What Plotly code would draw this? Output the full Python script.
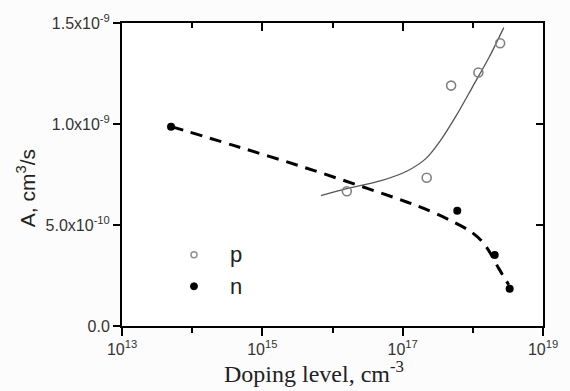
import plotly.graph_objects as go

# ---- data ----
p_x = [1.6e16, 2.2e17, 4.9e17, 1.2e18, 2.45e18]
p_y = [6.67e-10, 7.34e-10, 1.19e-9, 1.255e-9, 1.40e-9]

n_x = [5.0e13, 6.0e17, 2.05e18, 3.35e18]
n_y = [9.87e-10, 5.71e-10, 3.52e-10, 1.85e-10]

p_fit_x = [6.84e15, 1.63e16, 4.79e16, 1.14e17, 2.18e17, 3.35e17, 5.77e17, 9.91e17, 1.70e18, 2.76e18]
p_fit_y = [6.46e-10, 6.81e-10, 7.18e-10, 7.66e-10, 8.31e-10, 9.11e-10, 1.040e-9, 1.184e-9, 1.329e-9, 1.477e-9]

n_fit_x = [5.06e13, 3.89e14, 3.58e15, 2.80e16, 1.14e17, 2.0e17, 4.63e17, 9.91e17, 1.52e18, 2.35e18, 3.25e18]
n_fit_y = [9.87e-10, 8.94e-10, 7.90e-10, 6.87e-10, 6.14e-10, 5.82e-10, 5.25e-10, 4.61e-10, 3.97e-10, 2.84e-10, 2.04e-10]

x_major = [1e13, 1e15, 1e17, 1e19]
x_major_text = ["10<sup>13</sup>", "10<sup>15</sup>", "10<sup>17</sup>", "10<sup>19</sup>"]
x_minor = [1e14, 1e16, 1e18]
y_ticks = [0, 5e-10, 1e-9, 1.5e-9]
y_tick_text = ["0.0", "5.0x10<sup>-10</sup>", "1.0x10<sup>-9</sup>", "1.5x10<sup>-9</sup>"]
legend_labels = ["p", "n"]

SANS = "Arial, Liberation Sans, sans-serif"
SERIF = "Times New Roman, Liberation Serif, serif"

fig = go.Figure()

fig.add_trace(go.Scatter(x=p_fit_x, y=p_fit_y, mode="lines",
                         line=dict(color="#555555", width=1.3, shape="spline", smoothing=0.8),
                         showlegend=False, hoverinfo="skip"))
fig.add_trace(go.Scatter(x=n_fit_x, y=n_fit_y, mode="lines",
                         line=dict(color="black", width=3, dash="12px,8px", shape="spline"),
                         showlegend=False, hoverinfo="skip"))
fig.add_trace(go.Scatter(x=p_x, y=p_y, mode="markers",
                         marker=dict(symbol="circle-open", size=9, color="#808080",
                                     line=dict(width=1.6, color="#808080")),
                         showlegend=False))
fig.add_trace(go.Scatter(x=n_x, y=n_y, mode="markers",
                         marker=dict(symbol="circle", size=8, color="black"),
                         showlegend=False))
# invisible trace to anchor the mirrored (top/right) axes
fig.add_trace(go.Scatter(x=[n_x[0]], y=[n_y[0]], xaxis="x2", yaxis="y2",
                         mode="markers", marker=dict(opacity=0), showlegend=False,
                         hoverinfo="skip"))

fig.update_layout(
    width=570, height=391,
    margin=dict(l=122, r=22, t=14, b=65),
    paper_bgcolor="#fcfcfc",
    plot_bgcolor="white",
    xaxis=dict(type="log", range=[13, 19], showgrid=False, zeroline=False,
               showline=True, linecolor="black", linewidth=2,
               tickmode="array", tickvals=x_major, ticktext=x_major_text,
               ticks="outside", ticklen=8, tickwidth=2, tickcolor="black",
               tickfont=dict(family=SANS, size=16, color="#333333"),
               minor=dict(tickvals=x_minor, ticks="outside", ticklen=5,
                          tickwidth=2, tickcolor="black", showgrid=False)),
    yaxis=dict(range=[0, 1.5e-9], showgrid=False, zeroline=False,
               showline=True, linecolor="black", linewidth=2,
               tickmode="array", tickvals=y_ticks, ticktext=y_tick_text,
               ticks="outside", ticklen=7, tickwidth=2, tickcolor="black",
               tickfont=dict(family=SANS, size=16, color="#333333")),
    xaxis2=dict(type="log", range=[13, 19], overlaying="x", side="top",
                showgrid=False, zeroline=False, showline=True, linecolor="black",
                linewidth=2, tickmode="array", tickvals=x_major, showticklabels=False,
                ticks="inside", ticklen=8, tickwidth=2, tickcolor="black",
                minor=dict(tickvals=x_minor, ticks="inside", ticklen=5,
                           tickwidth=2, tickcolor="black", showgrid=False)),
    yaxis2=dict(range=[0, 1.5e-9], overlaying="y", side="right", anchor="x2",
                showgrid=False, zeroline=False, showline=True, linecolor="black",
                linewidth=2, tickmode="array", tickvals=y_ticks, showticklabels=False,
                ticks="inside", ticklen=7, tickwidth=2, tickcolor="black"),
    showlegend=False,
)

# axis titles
fig.add_annotation(text="Doping level, cm<sup>-3</sup>", xref="paper", yref="paper",
                   x=0.455, y=-0.151, xanchor="center", yanchor="middle", showarrow=False,
                   font=dict(family=SERIF, size=24, color="#222222"))
fig.add_annotation(text="A, cm<sup>3</sup>/s", xref="paper", yref="paper",
                   x=-0.228, y=0.455, xanchor="center", yanchor="middle", showarrow=False,
                   textangle=-90, font=dict(family=SANS, size=21, color="#222222"))

# legend (drawn manually to match the reference layout)
leg_y = [0.235, 0.131]
fig.add_shape(type="circle", xref="paper", yref="paper", xsizemode="pixel", ysizemode="pixel",
              xanchor=0.171, yanchor=leg_y[0], x0=-3, x1=3, y0=-3, y1=3,
              line=dict(color="#909090", width=1.5), fillcolor="white")
fig.add_shape(type="circle", xref="paper", yref="paper", xsizemode="pixel", ysizemode="pixel",
              xanchor=0.171, yanchor=leg_y[1], x0=-3.5, x1=3.5, y0=-3.5, y1=3.5,
              line=dict(color="black", width=1), fillcolor="black")
for lab, yy in zip(legend_labels, leg_y):
    fig.add_annotation(text=lab, xref="paper", yref="paper", x=0.252, y=yy,
                       xanchor="left", yanchor="middle", showarrow=False,
                       font=dict(family=SANS, size=22, color="#222222"))

fig.write_html("out.html")
